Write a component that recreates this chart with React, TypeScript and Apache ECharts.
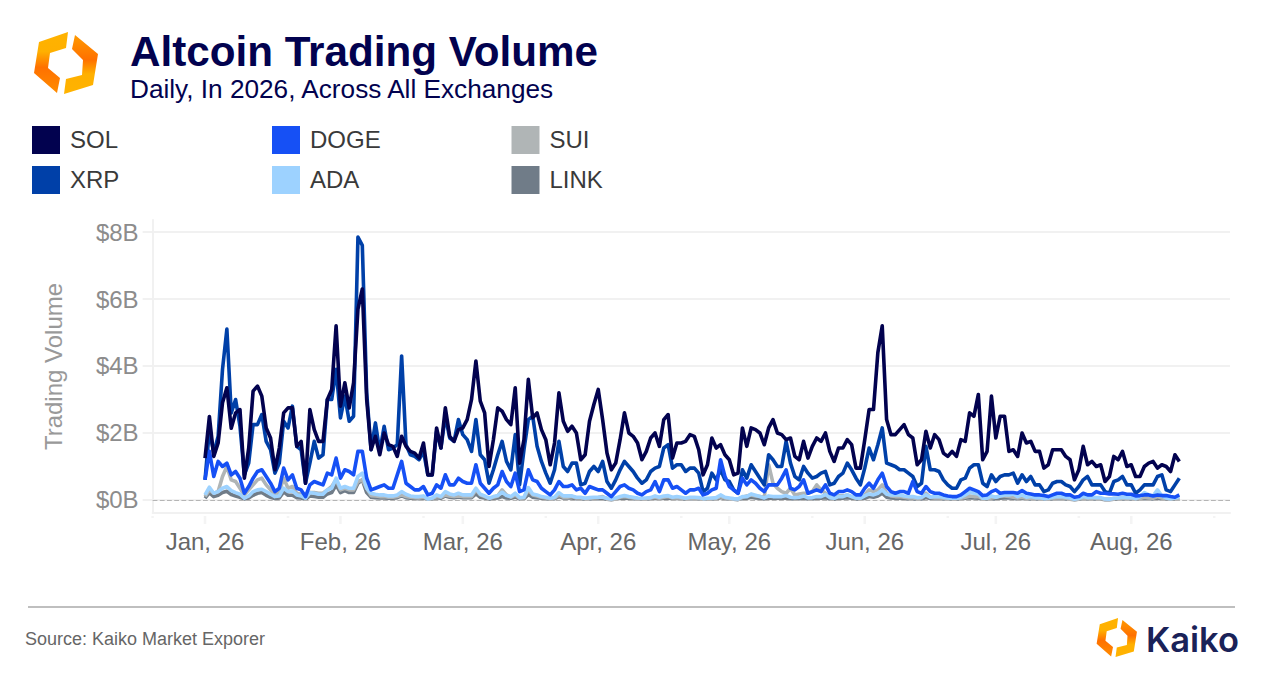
import { useEffect, useRef } from 'react';
import * as echarts from 'echarts';

// x positions are days counted from Jan 1
const monthTicks = [0, 31, 59, 90, 120, 151, 181, 212];
const monthLabels = ['Jan, 26', 'Feb, 26', 'Mar, 26', 'Apr, 26', 'May, 26', 'Jun, 26', 'Jul, 26', 'Aug, 26'];
const minorTicks = [-12, 19, 50, 78, 109, 139, 170, 200, 231];
const yTicks = [0, 2, 4, 6, 8];
const xMin = -12;
const xMax = 234.6;
const yMin = -0.39;
const yMax = 8.36;

// daily volume in $B, ten days per row
const SOL = [
  1.25, 2.49, 1.3, 1.7, 2.9, 3.35, 2.14, 2.6, 2.7, 0.65,
  1.55, 3.25, 3.4, 3.1, 2.15, 1.85, 0.9, 1.55, 2.6, 2.75,
  2.75, 1.6, 1.75, 0.5, 2.7, 2.1, 1.75, 1.75, 3.0, 3.3,
  5.2, 2.8, 3.5, 2.75, 3.5, 5.7, 6.3, 3.0, 1.5, 1.9,
  1.35, 2.0, 1.65, 1.6, 1.3, 1.9, 1.6, 1.45, 1.4, 1.25,
  1.7, 0.75, 0.75, 2.15, 1.55, 2.75, 1.9, 1.75, 2.1, 2.15,
  2.4, 3.0, 4.15, 2.95, 2.6, 1.0, 1.8, 2.75, 2.65, 2.4,
  2.25, 3.35, 1.1, 1.8, 3.6, 2.45, 2.6, 2.1, 1.8, 1.05,
  1.7, 3.2, 2.35, 2.05, 2.2, 2.0, 1.2, 1.35, 2.35, 2.85,
  3.3, 2.4, 1.4, 0.9, 1.1, 1.8, 2.6, 2.0, 1.9, 1.7,
  1.2, 1.45, 1.85, 2.0, 1.6, 2.4, 2.55, 1.25, 1.7, 1.7,
  1.75, 1.95, 1.9, 1.5, 0.75, 1.05, 1.85, 1.55, 1.65, 1.35,
  1.2, 0.75, 0.8, 2.15, 1.6, 2.15, 2.1, 2.0, 1.65, 2.15,
  2.4, 2.0, 1.95, 1.8, 1.85, 1.3, 1.2, 1.75, 1.25, 1.6,
  1.85, 1.75, 2.0, 1.45, 1.15, 1.55, 1.55, 1.8, 1.65, 0.95,
  0.95, 1.8, 2.7, 2.7, 4.4, 5.2, 2.4, 1.95, 1.95, 2.1,
  2.25, 1.95, 1.85, 1.05, 1.2, 2.05, 1.55, 1.95, 1.8, 1.4,
  1.3, 1.45, 1.3, 1.8, 1.75, 2.6, 2.5, 3.15, 1.2, 1.45,
  3.1, 1.85, 2.5, 2.5, 1.45, 1.5, 1.3, 2.0, 1.7, 1.75,
  1.45, 1.45, 0.95, 1.05, 1.5, 1.5, 1.5, 1.3, 1.2, 0.6,
  0.9, 1.6, 1.05, 1.15, 1.0, 1.05, 0.55, 0.7, 1.3, 1.2,
  1.45, 1.0, 1.05, 0.7, 0.7, 1.0, 1.1, 1.15, 0.95, 1.05,
  1.0, 0.85, 1.35, 1.15,
];

const XRP = [
  0.6, 2.1, 1.4, 1.9, 3.9, 5.1, 2.6, 3.0, 2.2, 0.75,
  1.1, 2.25, 2.25, 2.55, 1.75, 1.5, 0.8, 1.1, 2.35, 2.15,
  2.8, 1.6, 1.5, 0.5, 1.1, 1.75, 1.25, 1.35, 3.0, 3.0,
  3.9, 2.45, 3.1, 2.35, 2.5, 7.85, 7.6, 3.2, 1.5, 2.3,
  1.45, 2.2, 1.5, 1.55, 1.65, 4.3, 1.65, 1.35, 1.3, 1.2,
  1.45, 0.75, 0.75, 2.05, 1.55, 2.5, 1.85, 1.75, 2.4, 1.95,
  1.8, 1.45, 2.4, 1.35, 1.2, 0.5, 0.9, 1.35, 1.75, 1.15,
  0.9, 1.95, 0.45, 1.5, 2.4, 2.5, 1.6, 1.15, 0.8, 0.5,
  0.9, 1.75, 1.0, 0.85, 1.1, 1.1, 0.45, 0.5, 0.85, 1.0,
  0.85, 1.15, 0.55, 0.35, 0.6, 0.9, 1.15, 1.0, 0.85, 0.65,
  0.5, 0.6, 0.85, 0.95, 1.0, 1.55, 1.65, 0.95, 1.05, 1.05,
  0.85, 0.95, 0.95, 0.8, 0.25, 0.35, 0.8, 0.6, 0.9, 0.6,
  0.55, 0.3, 0.2, 0.9, 0.65, 1.05, 0.85, 0.65, 0.45, 1.35,
  1.2, 1.0, 1.0, 1.75, 1.1, 0.7, 0.6, 1.0, 0.8, 0.65,
  0.7, 0.8, 0.85, 0.45, 0.5, 0.7, 0.8, 1.1, 0.9, 0.65,
  0.45, 0.95, 1.55, 1.2, 1.65, 2.15, 1.1, 1.05, 1.0, 0.9,
  0.9, 0.8, 0.7, 0.4, 0.5, 1.6, 0.9, 0.9, 0.85, 0.6,
  0.45, 0.35, 0.35, 0.6, 0.65, 0.95, 1.05, 1.05, 0.5, 0.4,
  0.75, 0.55, 0.7, 0.75, 0.75, 0.8, 0.5, 0.75, 0.55, 0.7,
  0.45, 0.45, 0.25, 0.3, 0.5, 0.55, 0.55, 0.45, 0.4, 0.25,
  0.4, 0.6, 0.7, 0.45, 0.45, 0.45, 0.25, 0.2, 0.55, 0.6,
  0.7, 0.45, 0.45, 0.2, 0.3, 0.45, 0.45, 0.45, 0.7, 0.75,
  0.3, 0.25, 0.45, 0.65,
];

const DOGE = [
  0.6, 1.45, 0.7, 1.15, 1.0, 1.1, 0.75, 0.85, 0.65, 0.2,
  0.4, 0.65, 0.85, 0.9, 0.7, 0.5, 0.25, 0.35, 0.95, 0.6,
  0.75, 0.35, 0.3, 0.1, 0.45, 0.55, 0.5, 0.45, 0.8, 0.75,
  1.25, 0.65, 0.9, 0.85, 0.75, 1.45, 1.45, 0.65, 0.3, 0.35,
  0.4, 0.45, 0.35, 0.35, 0.75, 1.15, 0.5, 0.4, 0.3, 0.3,
  0.4, 0.15, 0.2, 0.45, 0.35, 0.75, 0.45, 0.45, 0.65, 0.55,
  0.5, 0.5, 1.05, 0.5, 0.35, 0.2, 0.35, 0.45, 0.85, 0.55,
  0.4, 0.8, 0.25, 0.3, 0.9, 0.6, 0.55, 0.35, 0.25, 0.15,
  0.3, 0.55, 0.4, 0.4, 0.45, 0.3, 0.35, 0.2, 0.4, 0.35,
  0.3, 0.3, 0.2, 0.1, 0.25, 0.4, 0.45, 0.35, 0.3, 0.2,
  0.15, 0.25, 0.3, 0.55, 0.25, 0.6, 0.6, 0.35, 0.4, 0.3,
  0.2, 0.3, 0.3, 0.35, 0.15, 0.2, 0.3, 0.35, 1.2, 0.7,
  0.4, 0.3, 0.2, 0.65, 0.45, 0.6, 0.5, 0.35, 0.25, 0.45,
  0.45, 0.45, 0.65, 0.9, 0.35, 0.3, 0.4, 0.6, 0.2, 0.25,
  0.3, 0.25, 0.45, 0.2, 0.15, 0.25, 0.25, 0.3, 0.25, 0.15,
  0.15, 0.35, 0.5, 0.35, 0.6, 0.8, 0.4, 0.25, 0.2, 0.25,
  0.25, 0.2, 0.55, 0.25, 0.2, 0.4, 0.25, 0.2, 0.2, 0.15,
  0.12, 0.1, 0.1, 0.15, 0.25, 0.35, 0.3, 0.25, 0.13, 0.15,
  0.25, 0.3, 0.2, 0.22, 0.22, 0.22, 0.2, 0.28, 0.2, 0.18,
  0.15, 0.15, 0.13, 0.1, 0.15, 0.2, 0.2, 0.15, 0.15, 0.08,
  0.1, 0.2, 0.15, 0.15, 0.25, 0.2, 0.2, 0.18, 0.18, 0.17,
  0.2, 0.17, 0.17, 0.12, 0.13, 0.15, 0.15, 0.12, 0.15, 0.13,
  0.13, 0.1, 0.08, 0.15,
];

const ADA = [
  0.15, 0.38, 0.2, 0.25, 0.35, 0.4, 0.28, 0.22, 0.17, 0.05,
  0.12, 0.25, 0.3, 0.32, 0.25, 0.17, 0.1, 0.12, 0.35, 0.25,
  0.27, 0.15, 0.12, 0.05, 0.22, 0.2, 0.17, 0.17, 0.3, 0.35,
  0.65, 0.35, 0.4, 0.35, 0.35, 0.7, 0.8, 0.35, 0.2, 0.17,
  0.15, 0.15, 0.12, 0.12, 0.15, 0.25, 0.17, 0.12, 0.1, 0.1,
  0.12, 0.03, 0.06, 0.15, 0.1, 0.25, 0.18, 0.15, 0.2, 0.15,
  0.15, 0.15, 0.35, 0.17, 0.12, 0.05, 0.1, 0.13, 0.23, 0.13,
  0.1, 0.2, 0.07, 0.08, 0.37, 0.18, 0.15, 0.1, 0.08, 0.05,
  0.08, 0.22, 0.12, 0.12, 0.12, 0.08, 0.08, 0.05, 0.07, 0.08,
  0.08, 0.08, 0.05, 0.03, 0.06, 0.1, 0.13, 0.1, 0.08, 0.06,
  0.05, 0.06, 0.07, 0.12, 0.08, 0.12, 0.13, 0.08, 0.1, 0.08,
  0.05, 0.08, 0.08, 0.07, 0.04, 0.05, 0.06, 0.07, 0.15, 0.08,
  0.06, 0.04, 0.03, 0.1, 0.1, 0.18, 0.14, 0.1, 0.06, 0.12,
  0.1, 0.1, 0.1, 0.13, 0.08, 0.07, 0.08, 0.12, 0.06, 0.07,
  0.1, 0.1, 0.16, 0.07, 0.05, 0.1, 0.1, 0.15, 0.1, 0.06,
  0.05, 0.12, 0.18, 0.15, 0.2, 0.3, 0.17, 0.15, 0.15, 0.15,
  0.12, 0.1, 0.1, 0.07, 0.08, 0.15, 0.08, 0.1, 0.1, 0.08,
  0.06, 0.05, 0.05, 0.08, 0.15, 0.23, 0.2, 0.18, 0.05, 0.05,
  0.12, 0.08, 0.12, 0.15, 0.15, 0.18, 0.1, 0.15, 0.08, 0.1,
  0.07, 0.07, 0.04, 0.05, 0.08, 0.1, 0.1, 0.08, 0.06, 0.02,
  0.05, 0.1, 0.07, 0.08, 0.07, 0.07, 0.03, 0.02, 0.05, 0.06,
  0.08, 0.07, 0.07, 0.04, 0.1, 0.22, 0.15, 0.12, 0.3, 0.12,
  0.06, 0.04, 0.06, 0.08,
];

const SUI = [
  0.1, 0.3, 0.2, 0.25, 0.7, 1.0, 0.6, 0.55, 0.35, 0.15,
  0.3, 0.45, 0.6, 0.65, 0.45, 0.3, 0.13, 0.25, 0.65, 0.35,
  0.4, 0.2, 0.17, 0.05, 0.22, 0.22, 0.2, 0.2, 0.3, 0.4,
  0.6, 0.3, 0.35, 0.3, 0.3, 0.55, 0.6, 0.35, 0.13, 0.12,
  0.1, 0.1, 0.08, 0.08, 0.1, 0.15, 0.1, 0.08, 0.07, 0.06,
  0.08, 0.03, 0.04, 0.1, 0.08, 0.15, 0.12, 0.1, 0.12, 0.1,
  0.1, 0.1, 0.3, 0.15, 0.1, 0.04, 0.08, 0.12, 0.3, 0.15,
  0.08, 0.15, 0.05, 0.06, 0.3, 0.15, 0.12, 0.08, 0.06, 0.03,
  0.06, 0.15, 0.08, 0.08, 0.1, 0.06, 0.06, 0.04, 0.05, 0.06,
  0.07, 0.1, 0.04, 0.02, 0.04, 0.08, 0.1, 0.08, 0.06, 0.04,
  0.03, 0.04, 0.06, 0.08, 0.05, 0.08, 0.1, 0.06, 0.07, 0.05,
  0.04, 0.05, 0.05, 0.04, 0.02, 0.03, 0.04, 0.05, 0.1, 0.06,
  0.04, 0.03, 0.02, 0.08, 0.12, 0.15, 0.12, 0.1, 0.08, 1.05,
  0.5, 0.35, 0.25, 0.2, 0.35, 0.15, 0.18, 0.2, 0.2, 0.25,
  0.45, 0.3, 0.2, 0.08, 0.06, 0.12, 0.12, 0.15, 0.1, 0.05,
  0.05, 0.15, 0.3, 0.25, 0.3, 0.45, 0.2, 0.12, 0.1, 0.1,
  0.08, 0.06, 0.06, 0.04, 0.06, 0.2, 0.08, 0.06, 0.06, 0.05,
  0.04, 0.04, 0.04, 0.05, 0.08, 0.12, 0.1, 0.1, 0.04, 0.04,
  0.06, 0.08, 0.12, 0.12, 0.1, 0.08, 0.06, 0.08, 0.05, 0.06,
  0.05, 0.05, 0.03, 0.03, 0.05, 0.06, 0.06, 0.05, 0.04, 0.01,
  0.03, 0.06, 0.04, 0.05, 0.05, 0.04, 0.02, 0.02, 0.04, 0.05,
  0.06, 0.05, 0.05, 0.03, 0.04, 0.08, 0.06, 0.05, 0.1, 0.06,
  0.04, 0.03, 0.04, 0.05,
];

const LINK = [
  0.05, 0.22, 0.1, 0.14, 0.22, 0.26, 0.16, 0.12, 0.08, 0.03,
  0.06, 0.14, 0.2, 0.22, 0.14, 0.08, 0.04, 0.06, 0.24, 0.14,
  0.14, 0.07, 0.06, 0.02, 0.12, 0.1, 0.08, 0.08, 0.18, 0.22,
  0.45, 0.22, 0.28, 0.22, 0.22, 0.5, 0.6, 0.22, 0.08, 0.07,
  0.06, 0.06, 0.05, 0.05, 0.07, 0.12, 0.07, 0.05, 0.05, 0.04,
  0.06, 0.02, 0.03, 0.07, 0.05, 0.12, 0.08, 0.07, 0.09, 0.07,
  0.07, 0.07, 0.18, 0.08, 0.06, 0.02, 0.05, 0.06, 0.1, 0.06,
  0.05, 0.09, 0.03, 0.04, 0.16, 0.08, 0.07, 0.05, 0.04, 0.02,
  0.04, 0.1, 0.06, 0.06, 0.06, 0.04, 0.04, 0.02, 0.03, 0.04,
  0.04, 0.04, 0.02, 0.01, 0.03, 0.05, 0.06, 0.05, 0.04, 0.03,
  0.02, 0.03, 0.03, 0.05, 0.04, 0.05, 0.06, 0.04, 0.05, 0.04,
  0.02, 0.04, 0.04, 0.03, 0.02, 0.02, 0.03, 0.03, 0.07, 0.04,
  0.03, 0.02, 0.01, 0.04, 0.05, 0.08, 0.06, 0.05, 0.03, 0.06,
  0.05, 0.05, 0.05, 0.06, 0.04, 0.03, 0.04, 0.05, 0.03, 0.03,
  0.05, 0.05, 0.07, 0.03, 0.02, 0.05, 0.05, 0.07, 0.05, 0.03,
  0.02, 0.05, 0.1, 0.08, 0.12, 0.2, 0.08, 0.06, 0.05, 0.05,
  0.04, 0.03, 0.03, 0.02, 0.03, 0.07, 0.04, 0.04, 0.04, 0.03,
  0.02, 0.02, 0.02, 0.03, 0.05, 0.07, 0.06, 0.05, 0.02, 0.02,
  0.04, 0.03, 0.05, 0.06, 0.06, 0.05, 0.03, 0.05, 0.03, 0.04,
  0.03, 0.03, 0.02, 0.02, 0.03, 0.04, 0.04, 0.03, 0.02, 0.01,
  0.02, 0.04, 0.03, 0.03, 0.03, 0.03, 0.01, 0.01, 0.02, 0.03,
  0.03, 0.03, 0.03, 0.02, 0.03, 0.04, 0.04, 0.03, 0.05, 0.03,
  0.02, 0.02, 0.02, 0.03,
];

const navy = '#02024f';
const fontFamily = '"Liberation Sans", Arial, sans-serif';
const faint = '#f1f1f1';

// [name, colour, values, legend x, legend y]
const legendEntries: [string, string, number[], number, number][] = [
  ['SOL', '#02024f', SOL, 32, 126],
  ['XRP', '#0040a8', XRP, 32, 166],
  ['DOGE', '#1650f5', DOGE, 272, 126],
  ['ADA', '#9dd2ff', ADA, 272, 166],
  ['SUI', '#b0b5b6', SUI, 511.5, 126],
  ['LINK', '#707c88', LINK, 511.5, 166],
];

// drawn bottom to top
const drawOrder = ['LINK', 'SUI', 'ADA', 'XRP', 'DOGE', 'SOL'];

const logoPiece = (points: number[][], stops: [number, string][]) => ({
  type: 'polygon',
  shape: { points },
  style: {
    fill: new echarts.graphic.LinearGradient(
      0, 0, 0, 1,
      stops.map(([offset, color]) => ({ offset, color })),
    ),
  },
});

// hexagon logo, two pieces inside a 66x63 box
const logoChildren = () => [
  logoPiece(
    [[35, 0], [6, 10], [1, 41], [24, 61], [27, 46], [15, 36], [17, 21], [33, 16]],
    [[0, '#ffb300'], [0.32, '#ffb000'], [0.58, '#ff7000'], [1, '#ff8c00']],
  ),
  logoPiece(
    [[42, 3], [65, 22], [60, 53], [31, 62], [33, 47], [49, 43], [50, 28], [39, 17]],
    [[0, '#ff9a00'], [0.42, '#ff7000'], [0.66, '#ffb000'], [1, '#ffb300']],
  ),
];

// detached tick marks under the panel, placed through the axes
const tickSeries = (ticks: number[], height: number) => ({
  type: 'scatter' as const,
  data: ticks.map((t) => [t, yMin]),
  clip: false,
  silent: true,
  symbol: 'rect',
  symbolSize: [2.5, height],
  symbolOffset: [0, 3 + height / 2],
  itemStyle: { color: faint },
  z: 1,
});

function buildOption(): echarts.EChartsOption {
  const legendGraphics = legendEntries.flatMap(([name, color, , x, y]) => [
    { type: 'rect', shape: { x, y, width: 28, height: 28 }, style: { fill: color } },
    {
      type: 'text',
      x: x + 38,
      y: y + 13,
      style: { text: name, fill: '#3a3a3a', font: `24px ${fontFamily}`, verticalAlign: 'middle' },
    },
  ]);

  return {
    animation: false,
    backgroundColor: '#ffffff',
    textStyle: { fontFamily },
    grid: { left: 152.6, right: 46, top: 220, bottom: 165 },
    xAxis: {
      type: 'value',
      min: xMin,
      max: xMax,
      axisLine: { show: true, onZero: false, lineStyle: { color: faint, width: 2 } },
      axisTick: { show: false },
      axisLabel: {
        customValues: monthTicks,
        color: '#666666',
        fontSize: 24,
        margin: 16,
        hideOverlap: false,
        formatter: (value: number) => monthLabels[monthTicks.indexOf(value)] ?? '',
      },
      splitLine: { show: false },
    },
    yAxis: {
      type: 'value',
      min: yMin,
      max: yMax,
      name: 'Trading Volume',
      nameLocation: 'middle',
      nameGap: 87,
      nameTextStyle: { color: '#999999', fontSize: 24 },
      axisLine: { show: true, onZero: false, lineStyle: { color: faint, width: 2 } },
      axisTick: { show: true, customValues: yTicks, length: 10, lineStyle: { color: faint, width: 2 } },
      axisLabel: {
        customValues: yTicks,
        color: '#8c8c8c',
        fontSize: 24,
        margin: 14,
        formatter: (value: number) => `$${value}B`,
      },
      splitLine: { show: true, lineStyle: { color: faint, width: 2 } },
    },
    series: [
      tickSeries(monthTicks, 8),
      tickSeries(minorTicks, 2),
      ...drawOrder.map((name, idx) => {
        const entry = legendEntries.find((e) => e[0] === name)!;
        return {
          name,
          type: 'line' as const,
          data: entry[2].map((v, i) => [i, v]),
          showSymbol: false,
          symbol: 'none',
          silent: true,
          z: 3 + idx,
          lineStyle: { color: entry[1], width: 3.6, join: 'round' as const },
          markLine:
            idx === 0
              ? {
                  silent: true,
                  symbol: 'none',
                  label: { show: false },
                  lineStyle: { color: '#b5b5b5', type: 'dashed' as const, width: 1.2 },
                  data: [{ yAxis: 0 }],
                }
              : undefined,
        };
      }),
    ],
    graphic: [
      { type: 'group', x: 33, y: 32, children: logoChildren() },
      {
        type: 'text',
        x: 130,
        y: 51,
        style: { text: 'Altcoin Trading Volume', fill: navy, font: `bold 42.2px ${fontFamily}`, verticalAlign: 'middle' },
      },
      {
        type: 'text',
        x: 130,
        y: 89,
        style: { text: 'Daily, In 2026, Across All Exchanges', fill: navy, font: `26.2px ${fontFamily}`, verticalAlign: 'middle' },
      },
      ...legendGraphics,
      { type: 'line', shape: { x1: 28, y1: 607, x2: 1235, y2: 607 }, style: { stroke: '#aaaaaa', lineWidth: 1.5 } },
      {
        type: 'text',
        x: 25,
        y: 639,
        style: { text: 'Source: Kaiko Market Exporer', fill: '#666666', font: `18px ${fontFamily}`, verticalAlign: 'middle' },
      },
      { type: 'group', x: 1096, y: 618, scaleX: 0.63, scaleY: 0.63, children: logoChildren() },
      {
        type: 'text',
        x: 1146,
        y: 639,
        style: { text: 'Kaiko', fill: '#1a2258', font: '600 34.5px Inter, sans-serif', verticalAlign: 'middle' },
      },
    ],
  } as echarts.EChartsOption;
}

export default function App() {
  const chartRef = useRef<HTMLDivElement>(null);

  useEffect(() => {
    if (!chartRef.current) return;
    const chart = echarts.init(chartRef.current, null, { renderer: 'svg' });
    chart.setOption(buildOption());
    return () => chart.dispose();
  }, []);

  return (
    <div
      ref={chartRef}
      style={{ position: 'absolute', left: 0, top: 0, width: 1276, height: 678 }}
    />
  );
}
